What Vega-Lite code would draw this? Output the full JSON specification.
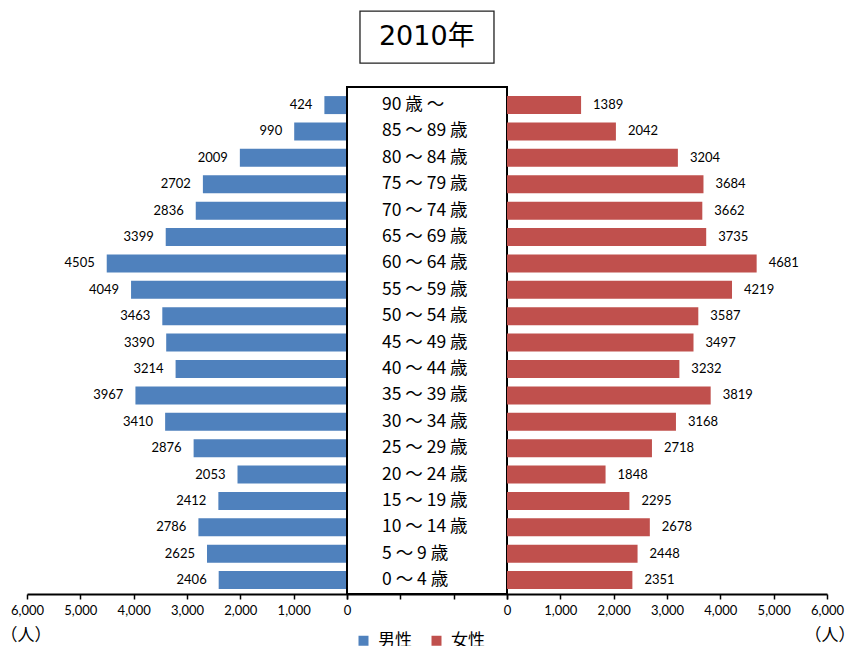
{
  "$schema": "https://vega.github.io/schema/vega-lite/v6.json",
  "background": "white",
  "padding": {"left": 0, "top": 10, "right": 0, "bottom": 0},
  "datasets": {
    "pop": [
      {"age": "90 歳 ～", "sex": "男性", "people": 424},
      {"age": "85 ～ 89 歳", "sex": "男性", "people": 990},
      {"age": "80 ～ 84 歳", "sex": "男性", "people": 2009},
      {"age": "75 ～ 79 歳", "sex": "男性", "people": 2702},
      {"age": "70 ～ 74 歳", "sex": "男性", "people": 2836},
      {"age": "65 ～ 69 歳", "sex": "男性", "people": 3399},
      {"age": "60 ～ 64 歳", "sex": "男性", "people": 4505},
      {"age": "55 ～ 59 歳", "sex": "男性", "people": 4049},
      {"age": "50 ～ 54 歳", "sex": "男性", "people": 3463},
      {"age": "45 ～ 49 歳", "sex": "男性", "people": 3390},
      {"age": "40 ～ 44 歳", "sex": "男性", "people": 3214},
      {"age": "35 ～ 39 歳", "sex": "男性", "people": 3967},
      {"age": "30 ～ 34 歳", "sex": "男性", "people": 3410},
      {"age": "25 ～ 29 歳", "sex": "男性", "people": 2876},
      {"age": "20 ～ 24 歳", "sex": "男性", "people": 2053},
      {"age": "15 ～ 19 歳", "sex": "男性", "people": 2412},
      {"age": "10 ～ 14 歳", "sex": "男性", "people": 2786},
      {"age": "5 ～ 9 歳", "sex": "男性", "people": 2625},
      {"age": "0 ～ 4 歳", "sex": "男性", "people": 2406},
      {"age": "90 歳 ～", "sex": "女性", "people": 1389},
      {"age": "85 ～ 89 歳", "sex": "女性", "people": 2042},
      {"age": "80 ～ 84 歳", "sex": "女性", "people": 3204},
      {"age": "75 ～ 79 歳", "sex": "女性", "people": 3684},
      {"age": "70 ～ 74 歳", "sex": "女性", "people": 3662},
      {"age": "65 ～ 69 歳", "sex": "女性", "people": 3735},
      {"age": "60 ～ 64 歳", "sex": "女性", "people": 4681},
      {"age": "55 ～ 59 歳", "sex": "女性", "people": 4219},
      {"age": "50 ～ 54 歳", "sex": "女性", "people": 3587},
      {"age": "45 ～ 49 歳", "sex": "女性", "people": 3497},
      {"age": "40 ～ 44 歳", "sex": "女性", "people": 3232},
      {"age": "35 ～ 39 歳", "sex": "女性", "people": 3819},
      {"age": "30 ～ 34 歳", "sex": "女性", "people": 3168},
      {"age": "25 ～ 29 歳", "sex": "女性", "people": 2718},
      {"age": "20 ～ 24 歳", "sex": "女性", "people": 1848},
      {"age": "15 ～ 19 歳", "sex": "女性", "people": 2295},
      {"age": "10 ～ 14 歳", "sex": "女性", "people": 2678},
      {"age": "5 ～ 9 歳", "sex": "女性", "people": 2448},
      {"age": "0 ～ 4 歳", "sex": "女性", "people": 2351}
    ],
    "heading": [{"t": "2010年"}]
  },
  "vconcat": [
    {
      "width": 134,
      "height": 52,
      "view": {"stroke": "#222222", "strokeWidth": 1.3},
      "data": {"name": "heading"},
      "layer": [
        {
          "mark": {"type": "text", "font": "DejaVu Sans, Noto Sans CJK JP", "fontSize": 27, "baseline": "middle", "align": "center", "color": "black"},
          "encoding": {"text": {"field": "t"}}
        },
        {
          "mark": {"type": "text", "fontSize": 10, "align": "left", "baseline": "middle", "dx": 92, "opacity": 0},
          "encoding": {"text": {"value": "."}}
        }
      ]
    },
    {
      "hconcat": [
        {
          "width": 320,
          "height": 507,
          "data": {"name": "pop"},
          "transform": [{"filter": "datum.sex === '男性'"}],
          "encoding": {
            "y": {"field": "age", "type": "nominal", "sort": null, "axis": null,
                  "scale": {"type": "band", "paddingInner": 0.318, "paddingOuter": 0.265, "align": 0.65}},
            "x": {"field": "people", "type": "quantitative",
                  "scale": {"domain": [0, 6000], "reverse": true, "nice": false},
                  "axis": {"values": [0, 1000, 2000, 3000, 4000, 5000, 6000], "format": ",.0f",
                           "title": "（人）", "titleX": -27, "titleY": 41, "titleAlign": "left",
                           "titleBaseline": "middle", "titleFont": "Noto Sans CJK JP", "titleFontSize": 17,
                           "titleFontWeight": "normal", "titleColor": "black"}}
          },
          "layer": [
            {"mark": {"type": "bar"}, "encoding": {"color": {"field": "sex", "type": "nominal",
              "scale": {"domain": ["男性", "女性"], "range": ["#4F81BD", "#C0504D"]},
              "legend": {"orient": "none", "legendX": 328, "legendY": 621, "direction": "horizontal",
                         "title": null, "symbolType": "square", "symbolSize": 100, "symbolStrokeWidth": 0,
                         "labelFont": "Noto Sans CJK JP", "labelFontSize": 17, "labelColor": "black",
                         "labelOffset": 6, "columnPadding": 16}}}},
            {"mark": {"type": "text", "align": "right", "baseline": "middle", "dx": -12, "font": "Lato", "fontSize": 13, "color": "black"},
             "encoding": {"text": {"field": "people", "type": "quantitative", "format": "d"}}}
          ]
        },
        {
          "width": 160,
          "height": 507,
          "view": {"stroke": "black", "strokeWidth": 2},
          "data": {"name": "pop"},
          "transform": [{"filter": "datum.sex === '女性'"}],
          "mark": {"type": "text", "align": "left", "baseline": "middle", "dx": 35, "font": "Noto Sans CJK JP", "fontSize": 17.5, "color": "black"},
          "encoding": {
            "y": {"field": "age", "type": "nominal", "sort": null, "axis": null,
                  "scale": {"type": "band", "paddingInner": 0.318, "paddingOuter": 0.265, "align": 0.65}},
            "x": {"datum": 0, "type": "quantitative",
                  "scale": {"domain": [0, 3000], "nice": false},
                  "axis": {"values": [0, 1000, 2000, 3000], "labels": false, "title": null}},
            "text": {"field": "age"}
          }
        },
        {
          "width": 320,
          "height": 507,
          "data": {"name": "pop"},
          "transform": [{"filter": "datum.sex === '女性'"}],
          "encoding": {
            "y": {"field": "age", "type": "nominal", "sort": null, "axis": null,
                  "scale": {"type": "band", "paddingInner": 0.318, "paddingOuter": 0.265, "align": 0.65}},
            "x": {"field": "people", "type": "quantitative",
                  "scale": {"domain": [0, 6000], "nice": false},
                  "axis": {"values": [0, 1000, 2000, 3000, 4000, 5000, 6000], "format": ",.0f",
                           "title": "（人）", "titleX": 297, "titleY": 41, "titleAlign": "left",
                           "titleBaseline": "middle", "titleFont": "Noto Sans CJK JP", "titleFontSize": 17,
                           "titleFontWeight": "normal", "titleColor": "black"}}
          },
          "layer": [
            {"mark": {"type": "bar"}, "encoding": {"color": {"field": "sex", "type": "nominal",
              "scale": {"domain": ["男性", "女性"], "range": ["#4F81BD", "#C0504D"]}}}},
            {"mark": {"type": "text", "align": "left", "baseline": "middle", "dx": 12, "font": "Lato", "fontSize": 13, "color": "black"},
             "encoding": {"text": {"field": "people", "type": "quantitative", "format": "d"}}}
          ]
        }
      ],
      "spacing": 0,
      "bounds": "flush",
      "resolve": {"scale": {"x": "independent", "y": "independent", "color": "shared"}, "axis": {"x": "independent"}, "legend": {"color": "shared"}}
    }
  ],
  "spacing": 22,
  "center": true,
  "resolve": {"scale": {"color": "shared"}, "legend": {"color": "shared"}},
  "config": {
    "view": {"stroke": null},
    "axis": {"grid": false, "domainColor": "black", "domainWidth": 2, "tickColor": "black", "tickWidth": 1.5,
             "tickSize": 5, "labelFont": "Lato", "labelFontSize": 13, "labelColor": "black", "labelPadding": 5,
             "labelFlush": false, "labelOverlap": false}
  }
}
